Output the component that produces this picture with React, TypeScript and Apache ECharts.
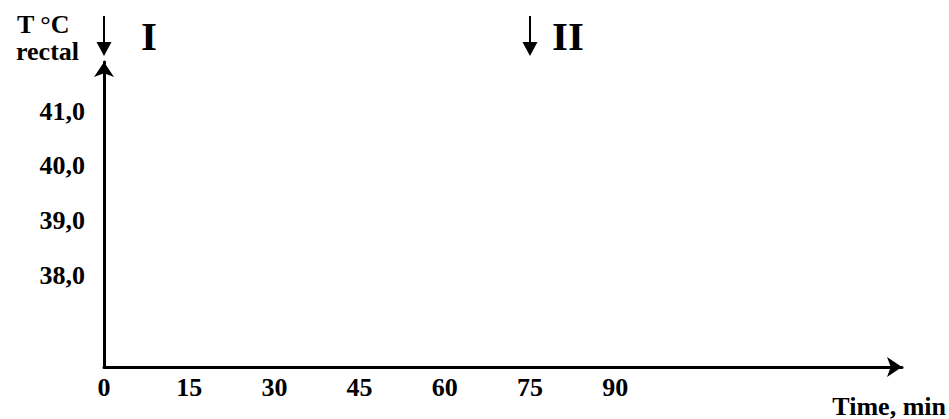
import React, { useEffect, useRef } from "react";
import * as echarts from "echarts";

const xTicks = [0, 15, 30, 45, 60, 75, 90];
const yTicks = [38, 39, 40, 41];
const xMin = 0;
const xMax = 140.5;
const yMin = 36.32;
const yMax = 41.9;
const injections = [
  { time: 0, label: "I" },
  { time: 75, label: "II" },
];
const yTitle = ["T °C", "rectal"];
const xTitle = "Time, min";

const FONT = "'Liberation Serif', 'Times New Roman', serif";

export default function App() {
  const ref = useRef<HTMLDivElement>(null);
  useEffect(() => {
    if (!ref.current) return;
    const chart = echarts.init(ref.current, null, { renderer: "svg" });
    const labelStyle = {
      fontFamily: FONT,
      fontWeight: "bold" as const,
      fontSize: 26,
      color: "#000",
    };
    chart.setOption({
      animation: false,
      backgroundColor: "#fff",
      grid: { left: 104, right: 47, top: 62, bottom: 52, outerBoundsMode: "none" },
      xAxis: {
        type: "value",
        min: xMin,
        max: xMax,
        axisLine: {
          show: true,
          onZero: false,
          lineStyle: { color: "#000", width: 3 },
          symbol: ["none", "arrow"],
          symbolSize: [15, 15],
        },
        axisTick: { show: false },
        splitLine: { show: false },
        axisLabel: { ...labelStyle, customValues: xTicks, margin: 7 },
      },
      yAxis: {
        type: "value",
        min: yMin,
        max: yMax,
        axisLine: {
          show: true,
          onZero: false,
          lineStyle: { color: "#000", width: 3 },
          symbol: ["none", "arrow"],
          symbolSize: [15, 15],
        },
        axisTick: { show: false },
        splitLine: { show: false },
        axisLabel: {
          ...labelStyle,
          customValues: yTicks,
          margin: 19,
          formatter: (v: number) => v.toFixed(1).replace(".", ","),
        },
      },
      series: [{ type: "line", data: [] }],
    });

    const graphics: any[] = [];
    injections.forEach((inj) => {
      const px = chart.convertToPixel({ xAxisIndex: 0 }, inj.time) as number;
      graphics.push({
        type: "line",
        shape: { x1: px, y1: 16, x2: px, y2: 44 },
        style: { stroke: "#000", lineWidth: 2 },
      });
      graphics.push({
        type: "polygon",
        shape: { points: [[px - 7.5, 42], [px + 7.5, 42], [px, 56]] },
        style: { fill: "#000" },
      });
      graphics.push({
        type: "text",
        x: px + (inj.label === "I" ? 37 : 22),
        y: 36,
        style: {
          text: inj.label,
          font: `bold 41px ${FONT}`,
          fill: "#000",
          textAlign: "left",
          textVerticalAlign: "middle",
        },
      });
    });
    graphics.push({
      type: "text",
      x: 17,
      y: 24,
      style: { text: yTitle[0], font: `bold 26px ${FONT}`, fill: "#000", textAlign: "left", textVerticalAlign: "middle" },
    });
    graphics.push({
      type: "text",
      x: 16,
      y: 51,
      style: { text: yTitle[1], font: `bold 26px ${FONT}`, fill: "#000", textAlign: "left", textVerticalAlign: "middle" },
    });
    graphics.push({
      type: "text",
      x: 946,
      y: 406,
      style: { text: xTitle, font: `bold 26px ${FONT}`, fill: "#000", textAlign: "right", textVerticalAlign: "middle" },
    });
    chart.setOption({ graphic: graphics });

    return () => chart.dispose();
  }, []);
  return (
    <div
      ref={ref}
      style={{ position: "fixed", left: 0, top: 0, width: 949, height: 419 }}
    />
  );
}
